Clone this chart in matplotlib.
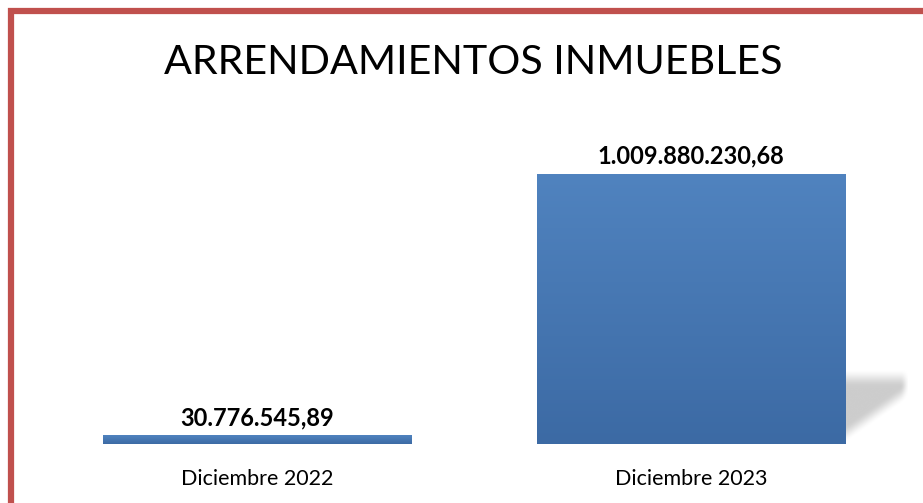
import matplotlib.pyplot as plt
from matplotlib.patches import Rectangle
import numpy as np

# data
categories = ["Diciembre 2022", "Diciembre 2023"]
values = [30776545.89, 1009880230.68]
value_labels = ["30.776.545,89", "1.009.880.230,68"]
title = "ARRENDAMIENTOS INMUEBLES"

top_color = np.array([80, 131, 191]) / 255
bottom_color = np.array([60, 106, 164]) / 255

fig = plt.figure(figsize=(9.23, 5.03), dpi=100)
ax = fig.add_axes([40 / 923, 59 / 503, 868 / 923, 304 / 503])

bar_w = 0.71
ymax = values[1] * 304 / 270
ax.set_xlim(-0.5, 1.5)
ax.set_ylim(0, ymax)

# gradient filled bars
grad = np.linspace(0, 1, 256)[:, None, None]
img = top_color * (1 - grad) + bottom_color * grad
for i, v in enumerate(values):
    x0 = i - bar_w / 2
    ax.imshow(img, extent=(x0, x0 + bar_w, 0, v), aspect="auto",
              origin="upper", zorder=3, interpolation="bilinear")
    ax.text(i, v + ymax * 0.022, value_labels[i], ha="center", va="bottom",
            fontsize=17, fontweight="bold", family="Lato", zorder=5)

# soft shadow to the right of the tall bar
sx0 = 1 + bar_w / 2
sw, sh = 0.15, values[1] * 0.28
nx, ny = 120, 120
xx, yy = np.meshgrid(np.linspace(0, 1, nx), np.linspace(1, 0, ny))
def smooth(t):
    t = np.clip(t, 0, 1)
    return t * t * (3 - 2 * t)
alpha = 0.2 * smooth((1 - yy) / 0.25) * smooth((yy - 0.6 * xx) / 0.25) * smooth((1 - xx) / 0.15)
shadow = np.zeros((ny, nx, 4))
shadow[..., 3] = alpha
ax.imshow(shadow, extent=(sx0, sx0 + sw, 0, sh), aspect="auto", origin="upper", zorder=2)

ax.set_xticks([0, 1])
ax.set_xticklabels(categories, family="Lato", fontsize=15.5)
ax.tick_params(axis="x", length=0, pad=18)
ax.set_yticks([])
for s in ax.spines.values():
    s.set_visible(False)

fig.text(473 / 923, 1 - 63 / 503, title, ha="center", va="center", fontsize=29.7, family="Lato")

# red frame (left and top visible)
fig.patches.append(Rectangle((11 / 923, -0.2), 2, 1.2 - 11 / 503,
                             transform=fig.transFigure, fill=False,
                             edgecolor="#C0504D", linewidth=4.5))

fig.savefig("out.png", dpi=100)
